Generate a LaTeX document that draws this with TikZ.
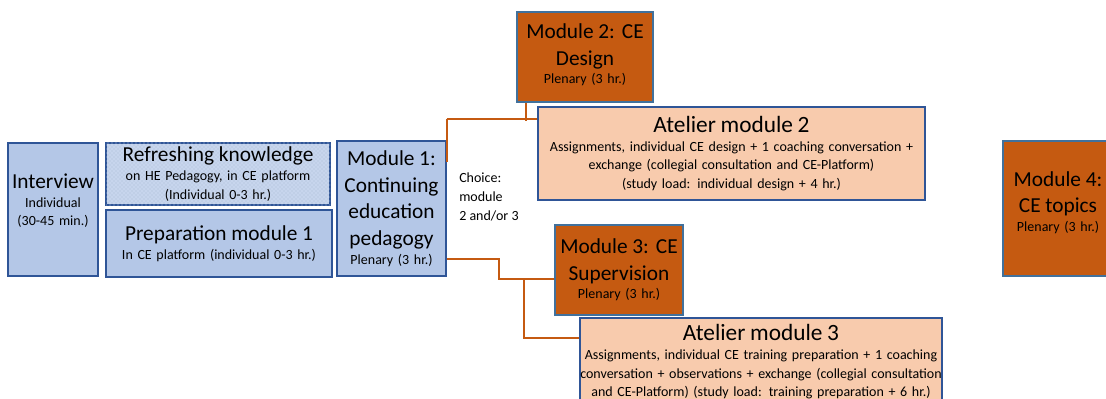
\documentclass[tikz,border=0pt]{standalone}
\usepackage{fontspec}
\setmainfont{Carlito}
\usetikzlibrary{calc,patterns}

\definecolor{boxblue}{HTML}{B4C7E7}
\definecolor{edgeblue}{HTML}{2F5597}
\definecolor{modorange}{HTML}{C55A11}
\definecolor{atelpeach}{HTML}{F8CBAD}
\definecolor{edgegrey}{HTML}{41719C}

\newcommand{\bigtxt}{\fontsize{16}{20}\selectfont}
\newcommand{\ateltxt}{\fontsize{17.5}{21}\selectfont}
\newcommand{\smalltxt}{\fontsize{10.5}{14}\selectfont}
\newcommand{\liftby}[1]{\par\vspace{#1}\hrule height 0pt}

\tikzset{
	box/.style={draw, line width=0.9pt, align=center, inner sep=0pt, font=\smalltxt},
	prepbox/.style={box, fill=boxblue, draw=edgeblue},
	plenbox/.style={box, fill=modorange, draw=edgegrey},
	atelbox/.style={box, fill=atelpeach, draw=edgeblue},
	link/.style={draw=modorange, line width=1.6pt},
}

\begin{document}
\begin{tikzpicture}[x=0.75pt,y=-0.75pt]
	\useasboundingbox (0,0) rectangle (1106,399);
	\clip (0,0) rectangle (1106,399);
	
	\node[prepbox, minimum width=67.5pt, minimum height=99.75pt, text width=67.5pt] (intv) at (53,209.5)
		{{\bigtxt Interview\par}Individual\\(30-45 min.)\liftby{13pt}};
	\node[prepbox, fill=boxblue!75!white, minimum width=168pt, minimum height=46.5pt, text width=168pt,
		postaction={pattern=crosshatch dots, pattern color=boxblue!85!gray}] (refr) at (218,174)
		{{\bigtxt Refreshing knowledge\par}on HE Pedagogy, in CE platform\\(Individual 0-3 hr.)};
	\node[prepbox, minimum width=169.5pt, minimum height=50.25pt, text width=169.5pt] (prep) at (219,243.5)
		{{\bigtxt Preparation module 1\par}In CE platform (individual 0-3 hr.)};
	\node[prepbox, minimum width=81.75pt, minimum height=101.25pt, text width=81.75pt] (mod1) at (391.5,208.5)
		{{\bigtxt Module 1:\\Continuing\\education\\pedagogy\par}Plenary (3 hr.)};
	
	\node[plenbox, minimum width=102pt, minimum height=67.5pt, text width=102pt] (mod2) at (585,57)
		{{\bigtxt Module 2: CE\\Design\par}Plenary (3 hr.)\liftby{3pt}};
	\node[atelbox, minimum width=290.25pt, minimum height=69.75pt, text width=290.25pt] (atl2) at (731.5,153.5)
		{{\ateltxt Atelier module 2\par}Assignments, individual CE design + 1 coaching conversation +\\exchange (collegial consultation and CE-Platform)\\(study load: individual design + 4 hr.)};
	
	\node[plenbox, minimum width=96pt, minimum height=67.5pt, text width=96pt] (mod3) at (619,270)
		{{\bigtxt Module 3: CE\\Supervision\par}Plenary (3 hr.)};
	\node[atelbox, minimum width=271.5pt, minimum height=66pt, text width=271.5pt] (atl3) at (761,362)
		{{\ateltxt Atelier module 3\par}Assignments, individual CE training preparation + 1 coaching\\conversation + observations + exchange (collegial consultation\\and CE-Platform) (study load: training preparation + 6 hr.)};
	
	\node[plenbox, minimum width=82.5pt, minimum height=101.25pt, text width=82.5pt] (mod4) at (1058,208.5)
		{{\bigtxt Module 4:\\CE topics\par}Plenary (3 hr.)\liftby{9pt}};
	
	\node[anchor=north west, align=left, inner sep=0pt, font=\smalltxt] (choice) at (459,173)
		{Choice:\\module\\2 and/or 3};
	
	\coordinate (j3) at ($(mod3.west)+(-30,9)$);
	
	\path[link] ($(mod1.north east)+(0,22)$) edge[-] ($(mod1.north east)+(0,-21)$);
	\draw[link] ($(mod1.north east)+(0,-21)$) -- ($(atl2.north west)+(0,13)$);
	\draw[link] ($(mod2.south west)+(10,0)$) -- ($(mod2.south west)+(10,18)$);
	\draw[link] ($(mod1.south east)+(0,-18)$) -| ($(j3)+(-25,0)$) -- ($(mod3.west)+(0,9)$);
	\draw[link] (j3) |- ($(atl3.north west)+(0,21)$);
	
\end{tikzpicture}
\end{document}
